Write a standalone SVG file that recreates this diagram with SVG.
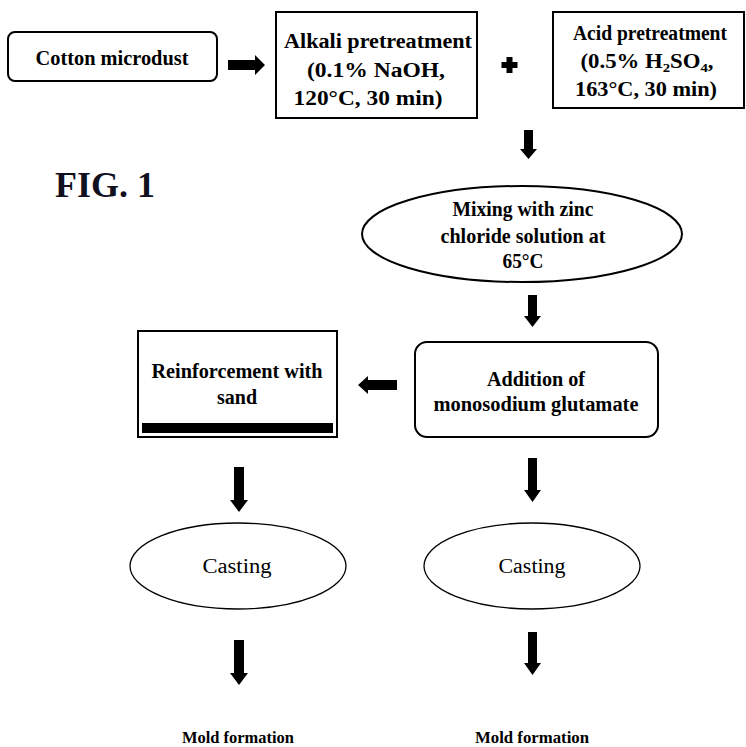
<svg xmlns="http://www.w3.org/2000/svg" width="746" height="747" viewBox="0 0 746 747">
<style>
.t{font-family:"Liberation Serif","Times New Roman",serif;font-weight:bold;font-size:20px;fill:#000;text-anchor:middle}
.r{font-family:"Liberation Serif","Times New Roman",serif;font-size:20px;fill:#000;text-anchor:middle}
.box{fill:#fff;stroke:#000;stroke-width:2}
.thin{fill:#fff;stroke:#000;stroke-width:1.3}
.arr{fill:#000}
</style>
<rect width="746" height="747" fill="#fff"/>
<text x="55" y="197" style="font-family:'Liberation Serif','Times New Roman',serif;font-weight:bold;font-size:36px;fill:#10101e">FIG. 1</text>

<g id="cotton">
<rect class="box" x="8" y="32" width="209" height="49" rx="7"/>
<text class="t" x="112" y="65" style="font-size:21px" textLength="153" lengthAdjust="spacingAndGlyphs">Cotton microdust</text>
</g>
<g id="alkali">
<rect class="box" x="276" y="12" width="201" height="106" stroke-width="1.8"/>
<text class="t" x="378" y="48" textLength="188" lengthAdjust="spacingAndGlyphs">Alkali pretreatment</text>
<text class="t" x="376" y="77" textLength="138" lengthAdjust="spacingAndGlyphs">(0.1% NaOH,</text>
<text class="t" x="368" y="105" textLength="149" lengthAdjust="spacingAndGlyphs">120°C, 30 min)</text>
</g>
<g id="acid">
<rect class="box" x="553" y="12" width="191" height="96"/>
<text class="t" x="650" y="40" textLength="154" lengthAdjust="spacingAndGlyphs">Acid pretreatment</text>
<text class="t" x="647" y="68" textLength="133" lengthAdjust="spacingAndGlyphs">(0.5% H<tspan font-size="13" dy="4">2</tspan><tspan dy="-4">SO</tspan><tspan font-size="13" dy="4">4</tspan><tspan dy="-4">,</tspan></text>
<text class="t" x="646" y="96" textLength="142" lengthAdjust="spacingAndGlyphs">163°C, 30 min)</text>
</g>
<g id="plus">
<rect class="arr" x="506.5" y="57" width="6" height="16"/>
<rect class="arr" x="501.5" y="62" width="16" height="6"/>
</g>
<g id="mixing">
<ellipse class="box" cx="522" cy="234" rx="160" ry="48"/>
<text class="t" x="523" y="216" textLength="141" lengthAdjust="spacingAndGlyphs">Mixing with zinc</text>
<text class="t" x="523" y="243" textLength="165" lengthAdjust="spacingAndGlyphs">chloride solution at</text>
<text class="t" x="523" y="268" textLength="41" lengthAdjust="spacingAndGlyphs">65°C</text>
</g>
<g id="addition">
<rect class="box" x="415" y="342" width="243" height="95" rx="12"/>
<text class="t" x="536" y="386" textLength="98" lengthAdjust="spacingAndGlyphs">Addition of</text>
<text class="t" x="536" y="411" textLength="205" lengthAdjust="spacingAndGlyphs">monosodium glutamate</text>
</g>
<g id="reinforcement">
<rect class="box" x="138" y="331" width="199" height="106" stroke-width="1.6"/>
<rect class="arr" x="142" y="423" width="191" height="10"/>
<text class="t" x="237" y="378" textLength="171" lengthAdjust="spacingAndGlyphs">Reinforcement with</text>
<text class="t" x="237" y="404" textLength="40" lengthAdjust="spacingAndGlyphs">sand</text>
</g>
<g id="casting-left">
<ellipse class="thin" cx="238" cy="566" rx="108" ry="43"/>
<text class="r" x="237" y="573" textLength="69" lengthAdjust="spacingAndGlyphs">Casting</text>
</g>
<g id="casting-right">
<ellipse class="thin" cx="532" cy="566" rx="108" ry="43"/>
<text class="r" x="532" y="573" textLength="67" lengthAdjust="spacingAndGlyphs">Casting</text>
</g>
<g id="mold-left">
<text class="t" x="238" y="743" style="font-size:17px" textLength="112" lengthAdjust="spacingAndGlyphs">Mold formation</text>
</g>
<g id="mold-right">
<text class="t" x="532" y="743" style="font-size:17px" textLength="114" lengthAdjust="spacingAndGlyphs">Mold formation</text>
</g>

<g id="connectors">
<polygon class="arr" points="228,60 255,60 255,55 265,65 255,75 255,70 228,70"/>
<polygon class="arr" points="524,130 533,130 533,149 537,149 528.5,159 520,149 524,149"/>
<polygon class="arr" points="528,295 537,295 537,316 541,316 532.5,327 524,316 528,316"/>
<polygon class="arr" points="397,380 368,380 368,376 358,385 368,394 368,390 397,390"/>
<polygon class="arr" points="234,467 244,467 244,500 248,500 239,512 230,500 234,500"/>
<polygon class="arr" points="528,458 537,458 537,490 541,490 532.5,502 524,490 528,490"/>
<polygon class="arr" points="234,640 244,640 244,673 248,673 239,685 230,673 234,673"/>
<polygon class="arr" points="528,632 537,632 537,663 541,663 532.5,675 524,663 528,663"/>
</g>
</svg>
